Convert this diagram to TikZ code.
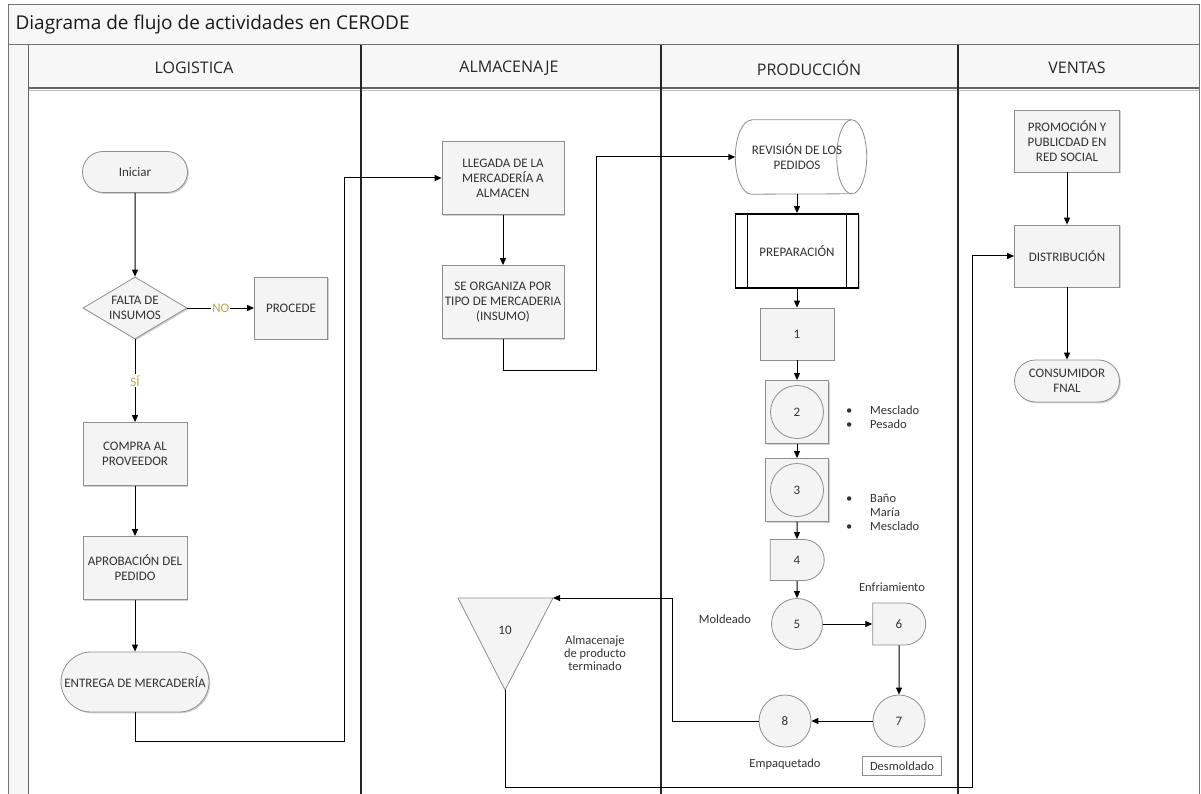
\documentclass[tikz,border=0pt]{standalone}
\usepackage{fontspec}
\setmainfont{Carlito}
\newfontfamily\segoe{Open Sans}
\usetikzlibrary{arrows.meta,shapes.geometric,shapes.misc,shadows}
\definecolor{txt}{HTML}{333333}
\definecolor{bx}{HTML}{F4F4F4}
\definecolor{bd}{HTML}{8E8E8E}
\definecolor{olivetxt}{HTML}{B5A650}
\definecolor{hdr}{HTML}{F7F7F7}
\begin{document}
\begin{tikzpicture}[x=1pt,y=-1pt,
  font=\fontsize{13}{15}\selectfont, text=txt,
  shd/.style={drop shadow={shadow xshift=1.3pt,shadow yshift=-1.3pt,fill=black!30,opacity=0.6}},
  proc/.style={draw=bd, fill=bx, line width=0.8pt, align=center, inner sep=0pt, shd},
  term/.style={rounded rectangle, draw=bd, fill=bx, line width=0.8pt, align=center, inner sep=0pt, shd},
  circ/.style={circle, draw=bd, fill=bx, line width=0.8pt, inner sep=0pt},
  delayn/.style={rounded rectangle, rounded rectangle west arc=none, draw=bd, fill=bx, line width=0.8pt, inner sep=0pt},
  conn/.style={draw=black, line width=1pt, -{Triangle[length=7pt,width=6pt]}},
  lbl/.style={align=center, inner sep=0pt, font=\fontsize{12.5}{14}\selectfont},
  lane/.style={draw=black!85, line width=1.4pt},
  hdrtxt/.style={font=\segoe\fontsize{16}{18}\selectfont, text=black!85}
]
\useasboundingbox (0,0) rectangle (1201,794);
\fill[white] (0,0) rectangle (1201,794);
% title band and headers
\fill[hdr] (8,5) rectangle (1199,45);
\fill[hdr] (28,45) rectangle (1199,89);
\fill[hdr] (8,45) rectangle (28,794);
\draw[black!55, line width=1pt] (8,794) -- (8,5) -- (1199,5) -- (1199,794);
\draw[black!55, line width=1pt] (8,45) -- (1199,45);
\draw[black!60, line width=1.2pt] (28,88) -- (1199,88);
\draw[black!25, line width=1pt] (28,91) -- (1199,91);
\draw[black!60, line width=1pt] (28,45) -- (28,794);
\draw[lane] (361,45) -- (361,794);
\draw[lane] (661,45) -- (661,794);
\draw[lane] (958,45) -- (958,794);
\node[anchor=west, font=\segoe\fontsize{19}{22}\selectfont, text=black!90] (title) at (12,25) {Diagrama de flujo de actividades en CERODE};
\node[hdrtxt] (h1) at (194,68) {LOGISTICA};
\node[hdrtxt] (h2) at (509,68) {ALMACENAJE};
\node[hdrtxt] (h3) at (809,68) {PRODUCCIÓN};
\node[hdrtxt] (h4) at (1077,68) {VENTAS};
% LOGISTICA
\node[term, minimum width=105pt, minimum height=41pt] (ini) at (135,172) {Iniciar};
\node[diamond, draw=bd, fill=bx, line width=0.8pt, aspect=1.68, minimum width=104pt, minimum height=62pt, inner sep=0pt, align=center, shd] (falta) at (135,308) {FALTA DE\\INSUMOS};
\node[proc, minimum width=73pt, minimum height=62pt] (procede) at (291,308) {PROCEDE};
\node[proc, minimum width=104pt, minimum height=63pt] (compra) at (135,454) {COMPRA AL\\PROVEEDOR};
\node[proc, minimum width=104pt, minimum height=63pt] (aprob) at (135,568) {APROBACIÓN DEL\\PEDIDO};
\node[term, minimum width=148pt, minimum height=60pt] (entrega) at (135,682) {ENTREGA DE MERCADERÍA};
% ALMACENAJE
\node[proc, minimum width=122pt, minimum height=73pt] (lleg) at (503,178) {LLEGADA DE LA\\MERCADERÍA A\\ALMACEN};
\node[proc, minimum width=122pt, minimum height=73pt] (org) at (503,302) {SE ORGANIZA POR\\TIPO DE MERCADERIA\\(INSUMO)};
\coordinate (t10l) at (458,598);
\coordinate (t10r) at (553,598);
\coordinate (t10b) at (505,690);
\fill[black!30, opacity=0.6, xshift=1.3pt, yshift=-1.3pt] (t10l) -- (t10r) -- (t10b) -- cycle;
\filldraw[draw=bd, fill=bx, line width=0.8pt] (t10l) -- (t10r) -- (t10b) -- cycle;
\node[inner sep=0pt] (n10) at (505,630) {10};
\node[lbl, font=\fontsize{12.5}{13}\selectfont] (alm) at (595,653) {Almacenaje\\de producto\\terminado};
% PRODUCCION
\node[minimum width=131pt, minimum height=74pt, inner sep=0pt] (rev) at (801,157) {};
\filldraw[draw=bd, fill=white, line width=0.8pt]
  ([xshift=16pt]rev.north west) -- ([xshift=-15pt]rev.north east)
  arc[start angle=90, end angle=-90, x radius=15pt, y radius=37pt]
  -- ([xshift=16pt]rev.south west)
  arc[start angle=270, end angle=90, x radius=16pt, y radius=37pt] -- cycle;
\draw[draw=bd, line width=0.8pt] ([xshift=-15pt]rev.north east)
  arc[start angle=90, end angle=270, x radius=15pt, y radius=37pt];
\node[align=center, inner sep=0pt] (revt) at (797,157) {REVISIÓN DE LOS\\PEDIDOS};
\node[proc, draw=black, line width=1.8pt, fill=white, minimum width=123pt, minimum height=74pt] (prep) at (797,251) {PREPARACIÓN};
\draw[black, line width=1.5pt] ([xshift=13pt]prep.north west) -- ([xshift=13pt]prep.south west);
\draw[black, line width=1.5pt] ([xshift=-13pt]prep.north east) -- ([xshift=-13pt]prep.south east);
\node[proc, minimum width=74pt, minimum height=52pt] (n1) at (797,334) {1};
\node[proc, minimum width=63pt, minimum height=63pt] (s2) at (797,412) {};
\node[circ, minimum size=53pt] (c2) at (s2) {2};
\node[proc, minimum width=63pt, minimum height=63pt] (s3) at (797,490) {};
\node[circ, minimum size=53pt] (c3) at (s3) {3};
\node[delayn, minimum width=54pt, minimum height=41pt] (n4) at (797,560) {4};
\node[circ, minimum size=51pt] (n5) at (797,624) {5};
\node[delayn, minimum width=53pt, minimum height=42pt] (n6) at (899,624) {6};
\node[circ, minimum size=52pt] (n7) at (899,721) {7};
\node[circ, minimum size=52pt] (n8) at (785,721) {8};
\node[lbl, align=left, anchor=west] (b1) at (846,417) {\makebox[24pt][l]{\textbullet}Mesclado\\\makebox[24pt][l]{\textbullet}Pesado};
\node[lbl, align=left, anchor=west] (b2) at (846,512) {\makebox[24pt][l]{\textbullet}Baño\\\makebox[24pt][l]{}María\\\makebox[24pt][l]{\textbullet}Mesclado};
\node[lbl] (moldeado) at (725,619) {Moldeado};
\node[lbl] (enfr) at (892,587) {Enfriamiento};
\node[lbl] (empaq) at (785,764) {Empaquetado};
\node[draw=bd, line width=0.8pt, fill=white, minimum width=79pt, minimum height=19pt, inner sep=0pt, font=\fontsize{12.5}{14}\selectfont] (desm) at (902,766) {Desmoldado};
% VENTAS
\node[proc, minimum width=105pt, minimum height=62pt] (prom) at (1067,141) {PROMOCIÓN Y\\PUBLICDAD EN\\RED SOCIAL};
\node[proc, minimum width=105pt, minimum height=62pt] (dist) at (1067,256) {DISTRIBUCIÓN};
\node[term, minimum width=105pt, minimum height=42pt] (cons) at (1067,381) {CONSUMIDOR\\FNAL};
% connectors
\coordinate (k1) at (344,741);
\coordinate (k2) at (596,370);
\coordinate (k3) at (672,598);
\coordinate (k4) at (972,787);
\draw[conn] (ini) -- (falta);
\draw[conn] (falta) -- node[fill=white, text=olivetxt, inner sep=1pt] (no) {NO} (procede);
\draw[conn] (falta) -- node[fill=white, text=olivetxt, inner sep=1pt] (si) {SÍ} (compra);
\draw[conn] (compra) -- (aprob);
\draw[conn] (aprob) -- (entrega);
\draw[conn] (entrega.south) |- (k1) |- (lleg.west);
\draw[conn] (lleg) -- (org);
\draw[conn] (org.south) |- (k2) |- (rev.west);
\draw[conn] (prep.north |- rev.south) -- (prep.north);
\draw[conn] (prep) -- (n1);
\draw[conn] (n1) -- (s2);
\draw[conn] (s2) -- (s3);
\draw[conn] (s3) -- (n4);
\draw[conn] (n4) -- (n5);
\draw[conn] (n5) -- (n6);
\draw[conn] (n6) -- (n7);
\draw[conn] (n7) -- (n8);
\draw[conn] (n8.west) -| (k3) -- (t10r);
\draw[conn] (t10b) |- (k4) |- (dist.west);
\draw[conn] (prom) -- (dist);
\draw[conn] (dist) -- (cons);
\end{tikzpicture}
\end{document}
